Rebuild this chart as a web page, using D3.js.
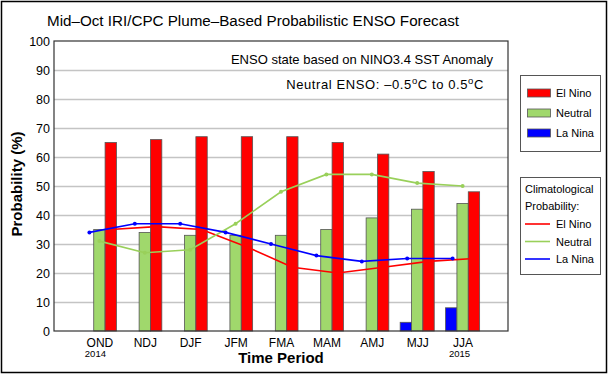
<!DOCTYPE html>
<html>
<head>
<meta charset="utf-8">
<script src="https://cdn.jsdelivr.net/npm/d3@7"></script>
<style>
  body { margin: 0; background: #fff; }
  svg { font-family: "Liberation Sans", Arial, sans-serif; }
  .grid line { stroke: #c4c4c4; stroke-width: 1.5; }
  .grid path { display: none; }
</style>
</head>
<body>
<svg id="chart" width="610" height="380"></svg>
<script>
// forecast data
const categories = ["OND", "NDJ", "DJF", "JFM", "FMA", "MAM", "AMJ", "MJJ", "JJA"];
const elNino = [65, 66, 67, 67, 67, 65, 61, 55, 48];
const neutral = [35, 34, 33, 33, 33, 35, 39, 42, 44];
const laNina = [0, 0, 0, 0, 0, 0, 0, 3, 8];
// climatological probability lines
const climElNino = [35, 36, 35, 29, 22, 20, 22, 24, 25];
const climNeutral = [31, 27, 28, 37, 48, 54, 54, 51, 50];
const climLaNina = [34, 37, 37, 34, 30, 26, 24, 25, 25];
const yTicks = [0, 10, 20, 30, 40, 50, 60, 70, 80, 90, 100];

const margin = { top: 41, right: 102, bottom: 49, left: 54 };
const W = 610, H = 380;

const svg = d3.select("#chart");

// outer frame
svg.append("rect")
  .attr("x", 1.5).attr("y", 1.5)
  .attr("width", 605).attr("height", 371)
  .attr("fill", "none").attr("stroke", "#000").attr("stroke-width", 1.5);

const x = d3.scaleLinear().domain([0, 10]).range([margin.left, W - margin.right]);
const y = d3.scaleLinear().domain([0, 100]).range([331, margin.top]);
const bw = x(0.25) - x(0);

// gridlines
svg.append("g")
  .attr("class", "grid")
  .attr("transform", "translate(" + margin.left + ",0)")
  .call(d3.axisLeft(y).tickValues(yTicks.slice(1, -1)).tickSize(-(x(10) - x(0))).tickFormat(""));

// y tick labels
const yAxis = svg.append("g")
  .attr("transform", "translate(" + margin.left + ",0)")
  .call(d3.axisLeft(y).tickValues(yTicks).tickSize(0).tickPadding(4));
yAxis.select(".domain").remove();
yAxis.selectAll("text").attr("font-size", 12.5).attr("fill", "#000")
  .style("font-family", "Liberation Sans, Arial, sans-serif");

// bars (zero values are not drawn)
function drawBars(values, offset, color) {
  svg.append("g").selectAll("rect")
    .data(values.map((v, i) => ({ v: v, i: i })).filter(d => d.v > 0))
    .enter()
    .append("rect")
    .attr("x", d => x(d.i + 1 + offset))
    .attr("y", d => y(d.v))
    .attr("width", bw)
    .attr("height", d => y(0) - y(d.v))
    .attr("fill", color)
    .attr("stroke", "#555")
    .attr("stroke-width", 0.8);
}
drawBars(laNina, -0.375, "#0000ff");
drawBars(neutral, -0.125, "#a0d86c");
drawBars(elNino, 0.125, "#ff0000");

// climatology lines, each at the position of its own bar
function drawLine(values, offset, color, dots) {
  const line = d3.line()
    .x((d, i) => x(i + 1 + offset))
    .y(d => y(d));
  svg.append("path")
    .datum(values)
    .attr("d", line)
    .attr("fill", "none")
    .attr("stroke", color)
    .attr("stroke-width", 1.6);
  if (dots) {
    svg.append("g").selectAll("circle")
      .data(values)
      .enter()
      .append("circle")
      .attr("cx", (d, i) => x(i + 1 + offset))
      .attr("cy", d => y(d))
      .attr("r", 2)
      .attr("fill", color);
  }
}
drawLine(climElNino, 0.25, "#ff0000", false);
drawLine(climNeutral, 0, "#99d05a", true);
drawLine(climLaNina, -0.22, "#0000ff", true);

// plot frame
svg.append("rect")
  .attr("x", x(0)).attr("y", y(100))
  .attr("width", x(10) - x(0)).attr("height", y(0) - y(100))
  .attr("fill", "none").attr("stroke", "#333").attr("stroke-width", 1.2);

// x axis labels
const xAxis = svg.append("g")
  .attr("transform", "translate(0," + y(0) + ")")
  .call(d3.axisBottom(x).tickValues(d3.range(1, 10)).tickSize(0).tickPadding(7)
    .tickFormat(d => categories[d - 1]));
xAxis.select(".domain").remove();
xAxis.selectAll("text").attr("font-size", 12).attr("fill", "#000")
  .style("font-family", "Liberation Sans, Arial, sans-serif");

svg.append("text").attr("x", x(1) - 4).attr("y", 357).attr("text-anchor", "middle")
  .attr("font-size", 9.5).text("2014");
svg.append("text").attr("x", x(9) - 3).attr("y", 357).attr("text-anchor", "middle")
  .attr("font-size", 9.5).text("2015");

// axis titles
svg.append("text").attr("x", 281).attr("y", 363).attr("text-anchor", "middle")
  .attr("font-size", 15).attr("font-weight", "bold").text("Time Period");
svg.append("text")
  .attr("transform", "translate(22,184) rotate(-90)")
  .attr("text-anchor", "middle")
  .attr("font-size", 15).attr("font-weight", "bold").text("Probability (%)");

// title
svg.append("text").attr("x", 253).attr("y", 26).attr("text-anchor", "middle")
  .attr("font-size", 15.2).text("Mid–Oct IRI/CPC Plume–Based Probabilistic ENSO Forecast");

// notes inside plot
svg.append("text").attr("x", 493).attr("y", 64).attr("text-anchor", "end")
  .attr("font-size", 13).text("ENSO state based on NINO3.4 SST Anomaly");
const note = svg.append("text").attr("x", 484).attr("y", 89).attr("text-anchor", "end")
  .attr("font-size", 13).attr("letter-spacing", 0.6);
note.append("tspan").text("Neutral ENSO: –0.5");
note.append("tspan").attr("font-size", 9.5).attr("dy", -5).text("o");
note.append("tspan").attr("dy", 5).text("C to 0.5");
note.append("tspan").attr("font-size", 9.5).attr("dy", -5).text("o");
note.append("tspan").attr("dy", 5).text("C");

// legend: bars
const barLegend = [["El Nino", "#ff0000"], ["Neutral", "#a0d86c"], ["La Nina", "#0000ff"]];
svg.append("rect").attr("x", 520.5).attr("y", 75.5).attr("width", 80).attr("height", 76)
  .attr("fill", "#fff").attr("stroke", "#555");
barLegend.forEach((d, i) => {
  const yy = 89 + i * 20;
  svg.append("rect").attr("x", 527.5).attr("y", yy).attr("width", 23).attr("height", 8)
    .attr("fill", d[1]).attr("stroke", "#555").attr("stroke-width", 0.8);
  svg.append("text").attr("x", 556).attr("y", yy + 8).attr("font-size", 11).text(d[0]);
});

// legend: climatology lines
const lineLegend = [["El Nino", "#ff0000"], ["Neutral", "#99d05a"], ["La Nina", "#0000ff"]];
svg.append("rect").attr("x", 520.5).attr("y", 177.5).attr("width", 80).attr("height", 97)
  .attr("fill", "#fff").attr("stroke", "#555");
svg.append("text").attr("x", 525).attr("y", 193).attr("font-size", 11).text("Climatological");
svg.append("text").attr("x", 525).attr("y", 210).attr("font-size", 11).text("Probability:");
lineLegend.forEach((d, i) => {
  const yy = 224 + i * 17.5;
  svg.append("line").attr("x1", 525).attr("x2", 550).attr("y1", yy).attr("y2", yy)
    .attr("stroke", d[1]).attr("stroke-width", 1.6);
  svg.append("text").attr("x", 556).attr("y", yy + 4).attr("font-size", 11).text(d[0]);
});
</script>
</body>
</html>
